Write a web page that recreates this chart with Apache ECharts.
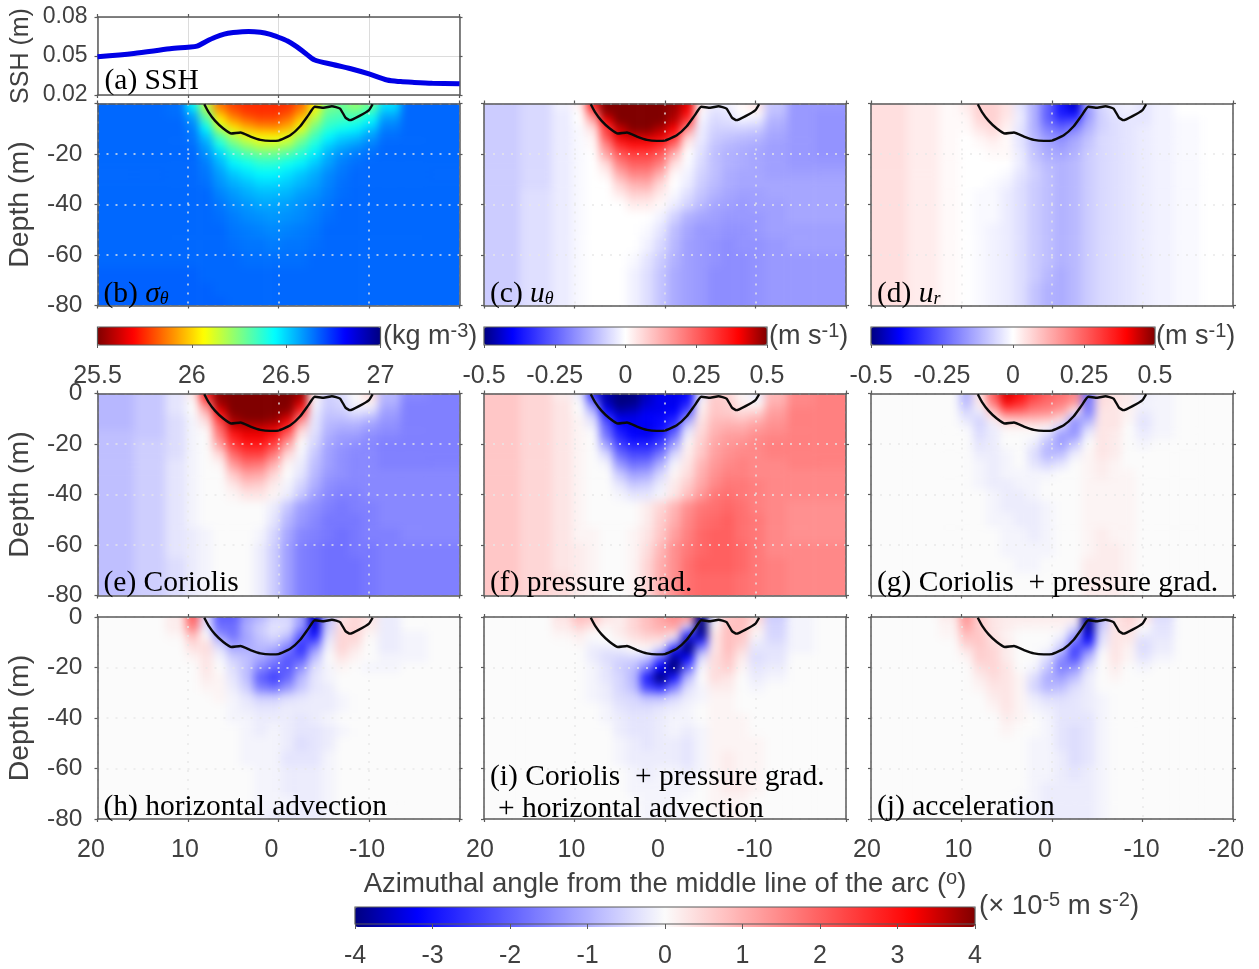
<!DOCTYPE html>
<html><head><meta charset="utf-8">
<style>html,body{margin:0;padding:0;background:#fff}#chart{width:1259px;height:969px}</style>
<script src="https://cdn.jsdelivr.net/npm/echarts@6/dist/echarts.min.js"></script>
</head><body><div id="chart"></div>
<script>
const angles=[18,14,11,9.5,8,6.5,5,3.5,2,0.5,-1,-2.5,-4,-5.5,-7,-8.5,-10,-12,-15,-18];
const depths=[1,4,7,10,13,16,20,24,28,32,36,40,45,50,56,62,68,74,79];
const xTicks=[20,10,0,-10,-20];
const sshAngles=[20,16,12,10,9,8,7,6,5,4,3.3,2,1,0,-1,-2,-3,-4,-6,-8,-10,-12,-13.5,-15,-17,-20];
const sshValues=[0.0495,0.052,0.0555,0.0568,0.0576,0.0612,0.0644,0.0668,0.068,0.0686,0.0688,0.0682,0.0668,0.0644,0.0615,0.0572,0.052,0.0469,0.0435,0.0402,0.0362,0.0315,0.0303,0.0297,0.0291,0.0287];
const contourAngles=[8.2,7.75,7,6.1,5.2,4.2,3.1,2,0.9,0,-1.3,-2.4,-3.3,-4,-5,-5.9,-6.8,-7.4,-7.9,-8.9,-10,-10.4];
const contourDepths=[0.3,3.3,6.9,9.9,11.9,11.5,13.1,14.4,14.8,14.7,12.6,9,4.6,1.3,1.7,1.1,2,5.6,6.6,5,2.6,0.3];
// sigma-theta minus 26, in 0.01 kg/m3
const sigmaField=[
[66,66,65,45,15,-14,-22,-25,-25,-25,-24,-16,4,25,28,22,28,48,66,66],
[66,66,65,55,25,-4,-16,-22,-24,-24,-20,-8,12,30,32,30,38,55,66,66],
[66,66,66,60,35,6,-7,-14,-18,-18,-12,1,20,34,36,38,45,60,66,66],
[66,66,66,63,45,18,4,-4,-8,-9,-4,10,28,38,42,45,52,63,66,66],
[66,66,66,64,52,32,18,10,5,5,10,22,34,44,50,52,58,65,66,66],
[66,66,66,65,57,40,28,20,14,14,18,30,40,50,55,58,62,66,66,66],
[66,66,66,66,60,50,38,32,28,28,32,38,46,55,60,63,65,66,66,66],
[66,66,66,66,63,55,46,42,38,38,42,46,52,58,63,65,66,66,66,66],
[66,66,66,66,64,58,52,48,45,45,48,52,56,61,64,66,66,66,66,66],
[66,66,66,66,65,60,56,53,50,50,52,55,58,62,65,66,66,66,66,66],
[66,66,66,66,66,62,59,56,54,54,55,58,60,63,65,66,66,66,66,66],
[66,66,66,66,66,64,61,59,57,57,58,60,62,64,66,66,66,66,66,66],
[66,66,66,66,66,65,63,61,60,59,60,61,63,65,66,66,66,66,66,66],
[66,66,66,66,66,66,64,63,62,61,62,63,64,66,66,66,66,66,66,66],
[66,66,66,66,66,66,65,64,64,63,64,64,65,66,66,66,66,66,66,66],
[66,66,66,66,66,66,66,65,65,65,65,65,66,66,66,66,66,66,66,66],
[67,67,67,67,66,66,66,66,66,66,66,66,66,66,66,66,66,66,66,66],
[67,67,67,67,67,66,66,66,66,66,66,66,66,66,66,66,66,66,66,66],
[67,67,67,67,67,67,66,66,66,66,66,66,66,66,66,66,66,66,66,66]];
// velocities in 0.01 m/s
const uTheta=[
[-8,-6,-2,2,35,50,50,50,50,50,48,42,3,-3,-2,1,4,-9,-16,-16],
[-8,-6,-3,0,22,48,50,50,50,50,47,38,-1,-5,-4,0,1,-10,-16,-17],
[-8,-6,-3,0,12,40,50,50,50,50,45,30,-2,-6,-5,-3,-4,-12,-16,-17],
[-8,-6,-3,-1,5,30,44,50,50,46,40,18,-3,-7,-7,-7,-8,-13,-16,-17],
[-8,-6,-3,-1,2,28,42,44,44,42,33,8,-3,-8,-9,-10,-11,-14,-16,-17],
[-8,-6,-3,-1,1,20,34,38,38,34,24,3,-4,-9,-11,-12,-13,-15,-16,-17],
[-8,-6,-3,-1,0,14,26,30,30,26,12,0,-5,-10,-12,-13,-14,-15,-16,-17],
[-8,-6,-3,-1,0,6,20,25,25,20,5,-1,-6,-10,-12,-13,-14,-15,-16,-16],
[-8,-6,-3,-1,0,2,13,19,19,12,1,-2,-7,-10,-13,-14,-14,-15,-15,-15],
[-8,-6,-3,-1,0,0,7,12,13,6,0,-3,-8,-11,-13,-14,-14,-14,-14,-14],
[-8,-5,-3,-1,0,0,3,7,7,3,-1,-5,-9,-12,-14,-15,-15,-14,-14,-14],
[-8,-5,-3,-1,0,0,0,3,3,1,-3,-7,-11,-14,-15,-16,-15,-15,-14,-14],
[-8,-5,-3,-1,0,0,0,0,0,-2,-7,-12,-14,-15,-16,-16,-16,-15,-14,-14],
[-8,-5,-3,-1,0,0,0,0,-1,-4,-10,-14,-16,-16,-17,-17,-16,-15,-15,-15],
[-8,-5,-3,-1,0,0,0,0,-2,-6,-11,-15,-16,-17,-18,-17,-17,-16,-15,-15],
[-8,-5,-3,-1,0,0,0,-1,-4,-8,-12,-15,-16,-17,-18,-18,-17,-16,-16,-16],
[-8,-5,-3,-1,0,0,0,-2,-5,-9,-13,-15,-16,-18,-18,-18,-17,-16,-16,-16],
[-8,-5,-3,-1,0,0,0,-2,-5,-9,-13,-15,-16,-18,-18,-18,-17,-16,-16,-16],
[-8,-5,-3,-1,0,0,0,-2,-5,-9,-13,-15,-16,-18,-18,-18,-17,-16,-16,-16]];
const uRadial=[
[5,3,1,3,7,7,4,-4,-12,-24,-36,-44,-14,-6,-3,-2,-4,-2,0,0],
[5,3,1,2,7,7,4,-3,-12,-25,-36,-38,-16,-7,-4,-3,-4,-2,0,0],
[5,3,1,1,6,7,3,-3,-12,-24,-30,-28,-14,-7,-5,-4,-4,-2,-1,0],
[5,3,1,1,4,6,2,-4,-12,-20,-24,-20,-12,-7,-5,-4,-3,-2,-1,0],
[5,3,1,0,2,4,1,-4,-11,-17,-19,-15,-10,-6,-5,-4,-3,-2,-1,0],
[5,3,1,0,1,2,1,-4,-10,-14,-16,-13,-9,-6,-5,-4,-3,-2,-1,0],
[5,3,1,0,0,1,1,-3,-9,-13,-14,-12,-8,-6,-5,-4,-3,-2,-1,0],
[5,3,1,0,0,0,0,-3,-8,-11,-12,-11,-8,-6,-5,-4,-3,-2,-1,0],
[5,3,1,0,0,0,-1,-4,-7,-10,-12,-11,-8,-6,-5,-4,-3,-2,-1,0],
[5,3,1,0,0,-1,-2,-5,-8,-10,-12,-11,-8,-6,-5,-4,-3,-2,-1,0],
[5,3,1,0,-1,-1,-3,-5,-8,-10,-12,-11,-8,-6,-5,-4,-3,-2,-1,0],
[5,3,1,0,-1,-1,-3,-5,-8,-10,-12,-11,-8,-6,-5,-4,-3,-2,-1,0],
[5,3,1,0,-1,-1,-3,-5,-8,-10,-12,-11,-8,-6,-5,-4,-3,-2,-1,0],
[5,3,1,0,-1,-2,-3,-5,-8,-10,-12,-11,-8,-6,-5,-4,-3,-2,-1,0],
[5,3,1,0,-1,-2,-3,-5,-8,-10,-12,-11,-8,-6,-5,-4,-3,-2,-1,0],
[5,3,1,0,-1,-2,-3,-5,-8,-10,-12,-11,-8,-6,-5,-4,-3,-2,-1,0],
[5,3,1,0,-1,-2,-3,-5,-8,-11,-13,-11,-8,-6,-5,-4,-3,-2,-1,0],
[5,3,1,0,-1,-2,-3,-5,-9,-12,-13,-11,-8,-6,-5,-4,-3,-2,-1,0],
[5,3,1,0,-1,-2,-3,-5,-9,-12,-13,-11,-8,-6,-5,-4,-3,-2,-1,0]];
// momentum terms in 1e-6 m/s2
const coriolisTerm=[
[-9,-7,-3,2,28,39,40,40,40,40,40,38,2,-6,-4,0,4,-9,-15,-16],
[-9,-7,-3,0,18,38,40,40,40,40,40,34,-1,-6,-5,-1,1,-10,-16,-16],
[-9,-7,-3,0,10,33,40,40,40,40,39,26,-2,-7,-6,-3,-4,-12,-16,-16],
[-9,-7,-4,-1,5,25,38,40,40,39,34,16,-3,-8,-8,-7,-9,-13,-16,-16],
[-9,-7,-4,-1,2,20,35,36,36,35,28,8,-3,-9,-10,-10,-12,-14,-16,-16],
[-8,-7,-4,-1,0,17,29,33,33,30,20,3,-4,-10,-12,-12,-14,-15,-16,-16],
[-8,-6,-4,-1,0,12,25,29,29,24,12,0,-5,-11,-13,-14,-15,-16,-16,-16],
[-8,-6,-4,-1,0,5,19,24,24,17,5,-1,-7,-12,-14,-15,-15,-16,-16,-16],
[-8,-6,-3,-1,0,1,13,18,17,10,1,-2,-8,-12,-14,-15,-15,-16,-16,-16],
[-8,-6,-3,-1,0,0,7,12,11,5,0,-3,-9,-13,-14,-15,-15,-15,-15,-15],
[-8,-6,-3,-1,0,0,3,7,6,2,-1,-5,-10,-14,-15,-15,-15,-15,-15,-15],
[-8,-6,-3,-1,0,0,1,3,3,1,-2,-7,-12,-15,-16,-16,-15,-15,-15,-15],
[-8,-6,-3,-1,0,0,0,0,0,-2,-7,-12,-14,-16,-17,-16,-16,-15,-15,-15],
[-8,-6,-3,-1,0,0,0,0,0,-3,-9,-13,-15,-17,-17,-17,-16,-15,-15,-15],
[-8,-6,-3,-2,-1,0,0,0,-1,-5,-11,-15,-16,-17,-18,-17,-16,-16,-15,-15],
[-8,-6,-3,-2,-1,0,0,0,-2,-6,-12,-16,-17,-18,-18,-17,-17,-16,-16,-16],
[-8,-6,-4,-2,-1,0,0,0,-2,-6,-12,-16,-17,-18,-18,-18,-17,-16,-16,-16],
[-8,-6,-4,-2,-1,0,0,0,-2,-6,-12,-16,-17,-18,-18,-18,-17,-16,-16,-16],
[-8,-6,-4,-2,-1,0,0,0,-2,-6,-12,-16,-17,-18,-18,-18,-17,-16,-16,-16]];
const pressureTerm=[
[7,5,2,-2,-25,-37,-40,-40,-36,-33,-33,-31,-3,6,5,1,-2,9,15,16],
[7,5,3,0,-16,-36,-40,-39,-35,-33,-33,-28,1,7,6,2,0,10,15,16],
[7,5,3,0,-9,-31,-37,-36,-33,-33,-32,-22,2,7,6,4,5,12,16,16],
[7,5,3,1,-4,-24,-33,-33,-32,-31,-28,-13,3,8,8,7,9,13,16,16],
[7,5,3,1,-2,-20,-31,-33,-33,-31,-25,-6,4,9,10,10,12,14,16,16],
[7,5,3,1,0,-18,-28,-32,-33,-29,-19,-2,5,10,12,12,14,15,16,16],
[7,5,3,1,0,-12,-24,-28,-28,-24,-12,1,6,11,13,14,15,16,16,16],
[7,5,3,1,0,-5,-19,-23,-23,-17,-5,2,7,12,14,15,15,16,16,16],
[7,5,3,1,0,-1,-13,-18,-17,-10,-1,3,9,13,15,16,15,15,16,16],
[7,5,3,1,0,0,-7,-12,-11,-5,1,4,10,14,16,16,15,15,15,15],
[7,5,3,1,0,0,-3,-7,-6,-2,2,6,11,15,17,17,16,15,15,15],
[7,5,3,1,0,0,-1,-3,-3,-1,3,8,13,17,18,17,16,15,15,15],
[7,5,3,1,0,0,0,0,2,5,9,14,17,18,19,18,16,15,14,14],
[7,5,3,1,0,0,0,0,2,6,10,15,18,19,20,18,17,15,14,14],
[7,5,3,1,1,0,0,1,3,7,12,16,19,20,20,18,17,15,14,14],
[7,5,3,2,1,0,0,1,4,9,14,17,19,20,20,19,17,15,15,15],
[7,5,3,2,1,0,0,1,5,10,14,18,20,20,20,19,17,16,15,15],
[7,5,4,2,1,0,0,1,5,10,14,18,19,19,19,18,17,16,15,15],
[7,5,4,2,1,0,0,1,5,10,14,18,19,19,19,18,17,16,15,15]];
const corPlusPres=[
[0,0,0,-9,3,20,34,30,24,20,18,15,-18,4,3,2,-2,-1,0,0],
[0,0,0,-8,2,16,30,26,20,18,16,12,-16,4,3,2,-1,-1,0,0],
[0,0,0,-5,-2,8,20,19,16,15,12,2,-16,3,3,1,-2,-1,0,0],
[0,0,0,-3,-5,2,8,9,9,8,4,-12,-11,3,3,1,-3,-1,0,0],
[0,0,0,-1,-5,-2,2,2,2,1,-5,-14,-6,3,3,0,-3,-1,0,0],
[0,0,0,0,-4,-2,0,0,0,-4,-12,-13,-2,3,2,0,-2,-1,0,0],
[0,0,0,0,-3,-2,0,0,-2,-8,-12,-7,0,3,2,0,-1,0,0,0],
[0,0,0,0,-2,-2,-1,0,-4,-9,-8,-2,1,3,2,0,0,0,0,0],
[0,0,0,0,-1,-2,-1,0,-3,-5,-3,0,1,2,1,0,0,0,0,0],
[0,0,0,0,-1,-2,-1,-1,-1,-1,0,0,1,2,1,1,0,0,0,0],
[0,0,0,0,-1,-2,-2,-1,-1,0,0,0,1,1,1,1,0,0,0,0],
[0,0,0,0,0,-1,-2,-2,-1,0,0,0,1,1,1,1,0,0,0,0],
[0,0,0,0,0,-1,-2,-2,-2,-1,0,0,1,1,1,1,0,0,0,0],
[0,0,0,0,0,-1,-1,-2,-2,-1,0,0,1,1,1,1,0,0,0,0],
[0,0,0,0,0,0,-1,-1,-2,-1,0,0,1,2,1,1,0,0,0,0],
[0,0,0,0,0,0,-1,-1,-1,-1,0,0,1,2,2,1,0,0,0,0],
[0,0,0,0,0,0,0,-1,-1,0,0,0,2,2,2,1,0,0,0,0],
[0,0,0,0,0,0,0,0,0,0,0,0,2,2,2,1,0,0,0,0],
[0,0,0,0,0,0,0,0,0,0,0,0,2,2,2,1,0,0,0,0]];
const advectionTerm=[
[0,0,2,20,-4,-20,-20,-12,-9,-5,-5,-12,-36,-8,3,5,3,-2,0,0],
[0,0,2,16,-3,-18,-18,-10,-6,-3,-4,-13,-34,-6,4,5,2,-2,0,0],
[0,0,1,9,0,-14,-18,-11,-7,-4,-7,-20,-30,-4,5,5,1,-2,-1,0],
[0,0,0,5,3,-7,-14,-11,-8,-7,-12,-24,-21,-2,5,4,0,-2,-1,0],
[0,0,0,3,4,-3,-10,-10,-9,-11,-17,-26,-13,-1,5,2,0,-2,-1,0],
[0,0,0,1,3,-1,-6,-8,-11,-15,-21,-21,-8,0,3,1,0,-1,-1,0],
[0,0,0,0,3,0,-4,-8,-15,-19,-21,-14,-4,-1,1,0,-1,-1,0,0],
[0,0,0,0,2,1,-3,-8,-20,-24,-19,-9,-3,-1,0,0,0,0,0,0],
[0,0,0,0,1,1,-2,-6,-16,-18,-13,-7,-3,-2,0,0,0,0,0,0],
[0,0,0,0,0,1,-1,-3,-6,-6,-4,-3,-2,-2,-1,0,0,0,0,0],
[0,0,0,0,0,0,-1,-2,-3,-3,-2,-2,-2,-2,-1,0,0,0,0,0],
[0,0,0,0,0,0,-1,-1,-2,-2,-2,-3,-2,-1,0,0,0,0,0,0],
[0,0,0,0,0,0,0,-1,-2,-1,-2,-3,-3,-2,-1,0,0,0,0,0],
[0,0,0,0,0,0,0,-1,-1,-1,-2,-4,-3,-2,0,0,0,0,0,0],
[0,0,0,0,0,0,0,-1,-1,-1,-3,-3,-3,-1,0,0,0,0,0,0],
[0,0,0,0,0,0,0,0,-1,-1,-2,-2,-2,-1,0,0,0,0,0,0],
[0,0,0,0,0,0,0,0,-1,-1,-2,-2,-2,-1,0,0,0,0,0,0],
[0,0,0,0,0,0,0,0,-1,-1,-1,-2,-2,-1,0,0,0,0,0,0],
[0,0,0,0,0,0,0,0,-1,-2,-2,-2,-2,-1,0,0,0,0,0,0]];
const threeTerms=[
[0,0,3,8,7,3,2,5,8,11,14,12,-40,-2,7,8,5,-6,-1,0],
[0,0,2,5,3,1,2,5,8,10,11,-6,-40,1,8,8,2,-5,-1,0],
[0,0,1,2,0,0,2,4,6,7,3,-26,-38,3,8,7,1,-5,-1,0],
[0,0,0,1,-1,0,0,2,3,2,-10,-38,-25,3,8,6,-2,-4,-1,0],
[0,0,0,0,-2,-3,-2,0,0,-6,-29,-40,-13,3,8,4,-3,-3,-1,0],
[0,0,0,0,-2,-4,-5,-5,-7,-20,-38,-31,-4,4,7,2,-4,-3,0,0],
[0,0,0,0,-1,-3,-6,-8,-16,-32,-40,-20,-1,4,6,1,-3,-2,0,0],
[0,0,0,0,-1,-3,-5,-9,-28,-40,-29,-9,0,4,3,0,-2,-1,0,0],
[0,0,0,0,-1,-2,-5,-8,-23,-27,-16,-4,-1,2,2,0,-1,0,0,0],
[0,0,0,0,-1,-2,-4,-5,-8,-8,-5,-2,-1,1,1,0,0,0,0,0],
[0,0,0,0,0,-1,-3,-4,-4,-3,-2,-1,0,1,1,0,0,0,0,0],
[0,0,0,0,0,-1,-2,-3,-3,-2,-1,-1,0,1,1,1,0,0,0,0],
[0,0,0,0,0,0,-2,-3,-3,-2,-1,-2,-1,1,1,1,0,0,0,0],
[0,0,0,0,0,0,-1,-2,-3,-2,-2,-3,-1,1,1,1,1,0,0,0],
[0,0,0,0,0,0,-1,-2,-2,-2,-2,-3,-1,1,2,1,1,0,0,0],
[0,0,0,0,0,0,0,-1,-2,-1,-1,-2,-1,1,2,1,1,0,0,0],
[0,0,0,0,0,0,0,-1,-1,-1,-1,-1,0,1,2,2,1,0,0,0],
[0,0,0,0,0,0,0,0,-1,-1,-1,0,0,1,1,1,0,0,0,0],
[0,0,0,0,0,0,0,0,-1,-1,-1,-1,0,0,1,1,0,0,0,0]];
const accelerationTerm=[
[0,0,2,13,6,3,2,2,2,2,2,2,-38,-8,3,5,3,-4,0,0],
[0,0,1,11,6,3,2,1,1,1,1,-4,-38,-6,3,4,0,-3,0,0],
[0,0,1,8,7,3,1,0,0,0,-1,-11,-34,-4,3,3,-2,-3,0,0],
[0,0,0,6,7,4,2,0,0,0,-4,-18,-28,-3,3,2,-4,-2,0,0],
[0,0,0,3,6,5,2,0,0,-1,-7,-24,-16,-1,3,1,-4,-2,0,0],
[0,0,0,1,6,5,2,0,0,-4,-14,-22,-9,0,3,1,-3,-1,0,0],
[0,0,0,0,4,5,3,0,-1,-7,-16,-14,-4,0,2,0,-1,0,0,0],
[0,0,0,0,2,4,3,1,-4,-10,-12,-8,-2,0,1,0,0,0,0,0],
[0,0,0,0,1,3,3,1,-5,-9,-8,-4,-2,0,0,0,0,0,0,0],
[0,0,0,0,0,2,3,1,-2,-4,-4,-3,-2,-1,0,0,0,0,0,0],
[0,0,0,0,0,1,3,1,-1,-2,-3,-3,-2,-1,0,0,0,0,0,0],
[0,0,0,0,0,0,2,1,0,-1,-3,-3,-3,-1,0,0,0,0,0,0],
[0,0,0,0,0,0,1,0,0,-1,-3,-4,-3,-1,0,0,0,0,0,0],
[0,0,0,0,0,0,0,0,-1,-1,-3,-4,-3,-1,0,0,0,0,0,0],
[0,0,0,0,0,0,0,0,-1,-1,-2,-4,-3,-1,0,0,0,0,0,0],
[0,0,0,0,0,0,0,0,-1,-1,-2,-3,-2,-1,0,0,0,0,0,0],
[0,0,0,0,0,0,0,0,-1,-2,-2,-2,-2,-1,0,0,0,0,0,0],
[0,0,0,0,0,0,0,-1,-1,-2,-2,-2,-2,-1,0,0,0,0,0,0],
[0,0,0,0,0,0,0,-1,-1,-2,-2,-2,-2,-1,0,0,0,0,0,0]];

const jetColors=['#800000','#ff0000','#ff8000','#ffff00','#80ff80','#00ffff','#0080ff','#0000ff','#000080'];
const divergingColors=['#000080','#0000ff','#4040ff','#8080ff','#bfbfff','#ffffff','#ffbfbf','#ff8080','#ff4040','#ff0000','#800000'];
const termColors=['#000080','#0000ff','#4040ff','#8080ff','#bfbfff','#fbfbfb','#ffbfbf','#ff8080','#ff4040','#ff0000','#800000'];

const sans='"Liberation Sans", Helvetica, Arial, sans-serif', serif='"Liberation Serif", serif';
const ink='#404040', frame='#5a5a5a', FS=25;
const colX=[97.5,484,871], W=362, rowY=[103.5,393.5,617], H=202;
const panels=[
 {f:sigmaField,c:0,r:0,vm:0,label:'(b) {i|σ}{s|θ}'},
 {f:uTheta,c:1,r:0,vm:1,label:'(c) {i|u}{s|θ}'},
 {f:uRadial,c:2,r:0,vm:2,label:'(d) {i|u}{s|r}'},
 {f:coriolisTerm,c:0,r:1,vm:3,label:'(e) Coriolis'},
 {f:pressureTerm,c:1,r:1,vm:3,label:'(f) pressure grad.'},
 {f:corPlusPres,c:2,r:1,vm:3,label:'(g) Coriolis  + pressure grad.'},
 {f:advectionTerm,c:0,r:2,vm:3,label:'(h) horizontal advection'},
 {f:threeTerms,c:1,r:2,vm:3,label:'(i) Coriolis  + pressure grad.'},
 {f:accelerationTerm,c:2,r:2,vm:3,label:'(j) acceleration'}];
const labelY=[294,583,807];

const angleEdges=[21.5,16,12.5,10.25,8.75,7.25,5.75,4.25,2.75,1.25,-0.25,-1.75,-3.25,-4.75,-6.25,-7.75,-9.25,-11,-13.5,-16.5,-21.5];
const depthEdges=[-4,2.5,5.5,8.5,11.5,14.5,18,22,26,30,34,38,42.5,47.5,53,59,65,71,76.5,84];
function cells(field){const out=[];depths.forEach((d,j)=>angles.forEach((a,i)=>{
  out.push([angleEdges[i],angleEdges[i+1],-depthEdges[j],-depthEdges[j+1],field[j][i]]);}));return out;}
function renderCell(p,api){
  const a=api.coord([api.value(0),api.value(2)]),b=api.coord([api.value(1),api.value(3)]);
  return {type:'rect',shape:{x:Math.min(a[0],b[0]),y:Math.min(a[1],b[1]),width:Math.abs(a[0]-b[0])+0.6,height:Math.abs(a[1]-b[1])+0.6},style:{fill:api.visual('color')}};
}
const shift={'20':8,'10':6,'0':14,'-10':2,'-20':14};
const grid=[],xAxis=[],yAxis=[],series=[],texts=[];
function addBoxAxes(gi,xOpt,yOpt){
  const line={show:true,onZero:false,lineStyle:{color:frame,width:1.5}};
  const tick={show:true,length:3,inside:false,lineStyle:{color:frame,width:1.2}};
  xAxis.push(Object.assign({type:'value',gridIndex:gi,min:-20,max:20,interval:10,inverse:true,position:'bottom',axisLine:line,axisTick:tick,zlevel:1,z:3,axisLabel:{show:false}},xOpt));
  xAxis.push({type:'value',gridIndex:gi,min:-20,max:20,interval:10,inverse:true,position:'top',axisLine:line,axisTick:tick,axisLabel:{show:false},splitLine:{show:false},zlevel:1,z:3});
  yAxis.push(Object.assign({type:'value',gridIndex:gi,position:'left',axisLine:line,axisTick:tick,zlevel:1,z:3,axisLabel:{show:false}},yOpt));
  yAxis.push({type:'value',gridIndex:gi,position:'right',min:yOpt.min,max:yOpt.max,interval:yOpt.interval,axisLine:line,axisTick:tick,axisLabel:{show:false},splitLine:{show:false},zlevel:1,z:3});
}
const dotted={show:true,lineStyle:{color:'rgba(232,232,232,0.95)',width:1.5,type:[2,7]}};
// SSH panel
grid.push({left:colX[0],top:17,width:W,height:78,zlevel:1});
addBoxAxes(0,{splitLine:{show:true,lineStyle:{color:'#dcdcdc',width:1}}},{min:0.02,max:0.08,interval:0.03,
  name:'SSH (m)',nameLocation:'middle',nameGap:64,nameRotate:90,nameTextStyle:{fontFamily:sans,fontSize:25,color:ink},
  splitLine:{show:true,lineStyle:{color:'#dcdcdc',width:1}},
  axisLabel:{show:true,margin:10,fontFamily:sans,fontSize:23,color:ink,padding:[4,0,0,0],formatter:v=>v.toFixed(2)}});
panels.forEach((p,i)=>{
  const gi=i+1;
  grid.push({left:colX[p.c],top:rowY[p.r],width:W,height:H,zlevel:1});
  const xo={splitLine:dotted};
  if(p.r===2){
    const extra=t=>p.c===0?(t===20?5:t===-10?2:0):0;
    xo.axisLabel={show:true,margin:19,color:ink,fontFamily:sans,fontSize:FS,rich:{}};
    xo.axisLabel.formatter=v=>{if(v===-20&&p.c<2)return '';return '{k'+String(v).replace('-','m')+'|'+v+'}';};
    xTicks.forEach(t=>{xo.axisLabel.rich['k'+String(t).replace('-','m')]={fontFamily:sans,fontSize:FS,color:ink,padding:[0,shift[t]+extra(t),0,0]};});
  }
  if(p.c===1&&p.r===2){
    xo.name='Azimuthal angle from the middle line of the arc ({sup|o})';
    xo.nameLocation='middle';xo.nameGap=49;
    xo.nameTextStyle={fontFamily:sans,fontSize:27.5,color:ink,rich:{sup:{fontFamily:sans,fontSize:20,color:ink,padding:[0,0,12,0]}}};
  }
  const yo={min:-80,max:0,interval:20,splitLine:dotted};
  if(p.c===0){
    yo.name='Depth (m)';yo.nameLocation='middle';yo.nameGap=63;yo.nameRotate=90;
    yo.nameTextStyle={fontFamily:sans,fontSize:28.5,color:ink};
    yo.axisLabel={show:true,margin:15,fontFamily:sans,fontSize:24.5,color:ink,padding:[4,0,0,0],formatter:v=>(p.r===0&&v===0)?'':String(v)};
  }
  addBoxAxes(gi,xo,yo);
  series.push({type:'custom',coordinateSystem:'cartesian2d',xAxisIndex:gi*2,yAxisIndex:gi*2,renderItem:renderCell,
    data:cells(p.f),encode:{x:[0,1],y:[2,3]},silent:true,clip:false,zlevel:0,z:1,animation:false});
});
panels.forEach((p,i)=>{
  const gi=i+1;
  series.push({type:'line',xAxisIndex:gi*2,yAxisIndex:gi*2,data:contourAngles.map((a,k)=>[a,-contourDepths[k]]),
    showSymbol:false,symbol:'none',smooth:0.15,lineStyle:{color:'#0a0a0a',width:2.4},zlevel:1,z:6,silent:true,animation:false,clip:false});
});
series.push({type:'line',xAxisIndex:0,yAxisIndex:0,data:sshAngles.map((a,k)=>[a,sshValues[k]]),showSymbol:false,symbol:'none',smooth:0.3,
  lineStyle:{color:'#0000e6',width:5},zlevel:1,z:6,silent:true,animation:false});

// colour bars: continuous visual maps with an axis over each for the ticks
const bars=[
 {left:97.5,top:327,len:283,th:18,min:-50,max:100,axMin:25.5,axMax:27,interval:0.5,colors:jetColors,idx:[0],tick:3},
 {left:484,top:327,len:283,th:18,min:-50,max:50,axMin:-0.5,axMax:0.5,interval:0.25,colors:divergingColors,idx:[1],tick:3},
 {left:871,top:327,len:284,th:18,min:-50,max:50,axMin:-0.5,axMax:0.5,interval:0.25,colors:divergingColors,idx:[2],tick:3},
 {left:355,top:907,len:620,th:20,min:-40,max:40,axMin:-4,axMax:4,interval:1,colors:termColors,idx:[3,4,5,6,7,8],tick:5}];
const visualMap=bars.map(b=>({type:'continuous',orient:'horizontal',left:b.left,top:b.top,itemWidth:b.th,itemHeight:b.len,padding:0,
  min:b.min,max:b.max,dimension:4,seriesIndex:b.idx,calculable:false,text:null,hoverLink:false,inRange:{color:b.colors},zlevel:1,z:1}));
bars.forEach(b=>{
  const gi=grid.length;
  grid.push({left:b.left,top:b.top,width:b.len,height:b.th,show:true,borderColor:frame,borderWidth:1.2,backgroundColor:'transparent',zlevel:1,z:3});
  xAxis.push({type:'value',gridIndex:gi,min:b.axMin,max:b.axMax,interval:b.interval,position:'bottom',zlevel:1,z:3,
    axisLine:{show:false},splitLine:{show:false},axisTick:{show:true,length:b.tick,lineStyle:{color:frame}},
    axisLabel:{show:true,margin:b.tick===5?20:19,fontFamily:sans,fontSize:FS,color:ink,hideOverlap:false,showMinLabel:true,showMaxLabel:true,formatter:v=>String(v)}});
  yAxis.push({type:'value',gridIndex:gi,show:false,min:0,max:1,zlevel:1});
});

const supRich={sup:{fontFamily:sans,fontSize:20,fill:ink,padding:[0,0,12,0]}};
function unitText(x,y,s,fs){texts.push({type:'text',x,y,zlevel:1,z:10,silent:true,style:{text:s,fontFamily:sans,fontSize:fs,fill:ink,verticalAlign:'middle',rich:supRich}});}
unitText(383,337,'(kg m{sup|-3})',27);
unitText(769,337,'(m s{sup|-1})',27);
unitText(1156,337,'(m s{sup|-1})',27);
unitText(979,906,'(× 10{sup|-5} m s{sup|-2})',27.5);
const labelRich={i:{fontFamily:serif,fontStyle:'italic',fontSize:29.5,fill:'#000'},s:{fontFamily:serif,fontStyle:'italic',fontSize:18,fill:'#000',padding:[10,0,0,0]}};
function panelText(x,y,s){texts.push({type:'text',x,y,zlevel:1,z:10,silent:true,style:{text:s,fontFamily:serif,fontSize:29.5,fill:'#000',verticalAlign:'middle',rich:labelRich}});}
panelText(colX[0]+7,81,'(a) SSH');
panels.forEach(p=>panelText(colX[p.c]+6,p.c===1&&p.r===2?777:labelY[p.r],p.label));
panelText(colX[1]+14,809,'+ horizontal advection');

const chart=echarts.init(document.getElementById('chart'),null,{renderer:'canvas'});
chart.setOption({animation:false,backgroundColor:'transparent',grid,xAxis,yAxis,series,visualMap,graphic:{elements:texts}});

// smooth the field layer like interpolated shading, keeping it inside the panels
const fieldLayer=document.querySelector('#chart canvas[data-zr-dom-id="zr_0"]');
if(fieldLayer){
  fieldLayer.style.filter='blur(4px)';
  const path=panels.map(p=>`M${colX[p.c]} ${rowY[p.r]}h${W}v${H}h${-W}Z`).join(' ');
  fieldLayer.style.clipPath=`path('${path}')`;
}
</script></body></html>
